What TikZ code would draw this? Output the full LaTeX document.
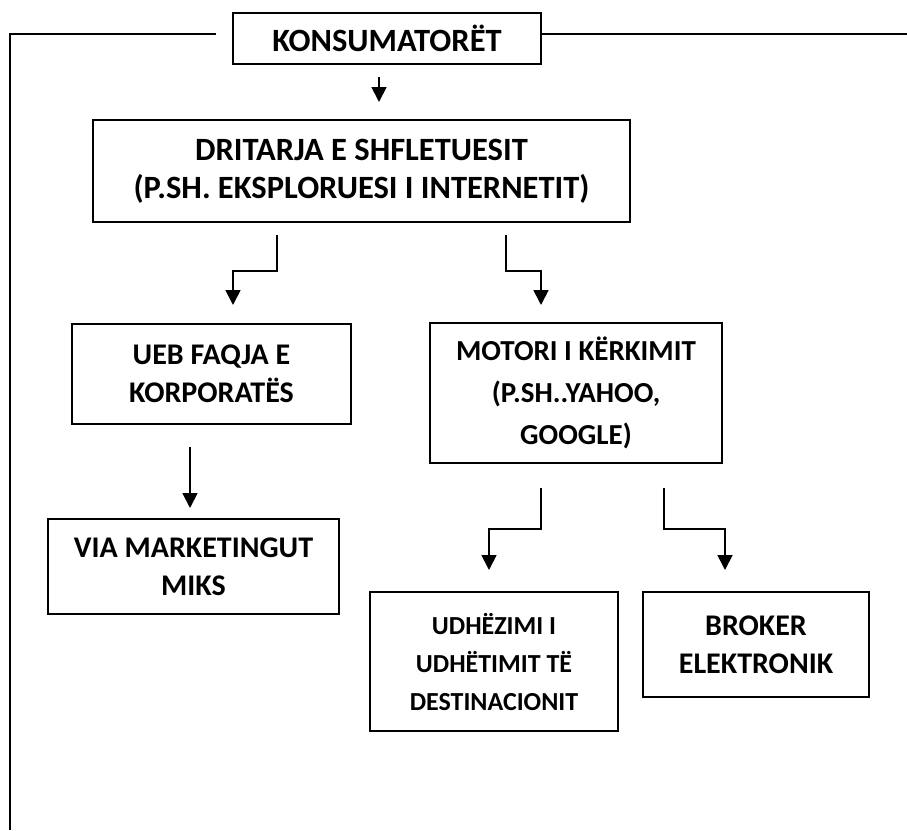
\documentclass[tikz,border=0pt]{standalone}
\usepackage{fontspec}
\setmainfont{Carlito}
\usetikzlibrary{arrows.meta}

\begin{document}
\begin{tikzpicture}[x=1pt,y=-1pt,
box/.style={draw,line width=1.8pt,align=center,inner sep=0pt,
font=\bfseries\fontsize{30}{38}\selectfont},
arr/.style={line width=1.8pt,-{Triangle[length=15pt,width=15pt]}}]
\useasboundingbox (0,0) rectangle (907,830);
\node[box,minimum width=308pt,minimum height=51pt,
font=\bfseries\fontsize{32.5}{38}\selectfont] (kons) at (387,38.5) {KONSUMATORËT};
\node[box,minimum width=537pt,minimum height=102pt,
font=\bfseries\fontsize{32.5}{38}\selectfont] (drit) at (361.5,171)
{DRITARJA E SHFLETUESIT\\(P.SH. EKSPLORUESI I INTERNETIT)};
\node[box,minimum width=279pt,minimum height=100pt] (ueb) at (211.5,374)
{UEB FAQJA E\\KORPORATËS};
\node[box,minimum width=292pt,minimum height=140pt,
font=\bfseries\fontsize{29}{42}\selectfont] (motori) at (576,393)
{MOTORI I KËRKIMIT\\(P.SH..YAHOO,\\GOOGLE)};
\node[box,minimum width=291pt,minimum height=95pt] (via) at (193.5,566.5)
{VIA MARKETINGUT\\MIKS};
\node[box,minimum width=248pt,minimum height=139pt,
font=\bfseries\fontsize{26}{38}\selectfont] (udh) at (494,661.5)
{UDHËZIMI I\\UDHËTIMIT TË\\DESTINACIONIT};
\node[box,minimum width=226pt,minimum height=105pt] (brok) at (756,644.5)
{BROKER\\ELEKTRONIK};
\coordinate (tl) at (216,34);
\coordinate (bl) at (10,830);
\coordinate (tr) at (907,34);
\draw[line width=1.8pt] (tl) -| (bl);
\draw[line width=1.8pt] (kons.east |- tr) -- (tr);
\coordinate (k1) at (379,77);
\coordinate (k2) at (379,102);
\draw[arr] (k1) -- (k2);
\coordinate (d1) at (277,235);
\coordinate (d2) at (233,305);
\draw[arr] (d1) -- ++(0,36) -| (d2);
\coordinate (d3) at (506,235);
\coordinate (d4) at (541,305);
\draw[arr] (d3) -- ++(0,36) -| (d4);
\coordinate (u1) at (190,447);
\coordinate (u2) at (190,508);
\draw[arr] (u1) -- (u2);
\coordinate (m1) at (541,488);
\coordinate (m2) at (489,570);
\draw[arr] (m1) -- ++(0,41) -| (m2);
\coordinate (m3) at (664,488);
\coordinate (m4) at (725,570);
\draw[arr] (m3) -- ++(0,41) -| (m4);
\end{tikzpicture}
\end{document}
